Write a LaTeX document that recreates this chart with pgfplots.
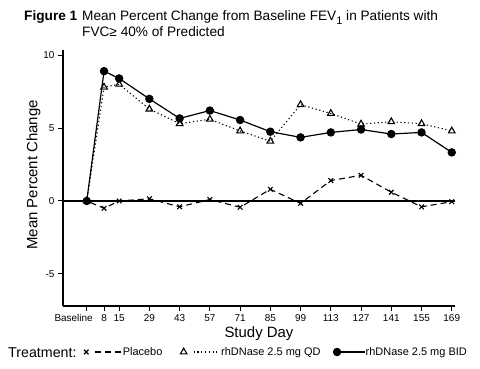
\documentclass[border=0pt]{standalone}
\usepackage{pgfplots}
\pgfplotsset{compat=1.18}
\usepackage{fontspec}
\setmainfont{Liberation Sans}
\pgfplotsset{
  legA/.style={legend image code/.code={\draw[##1,mark=none] (5bp,0bp) -- (35bp,0bp); \path (36bp,0bp); \draw[##1] plot coordinates {(0bp,0bp)};}},
  legB/.style={legend image code/.code={\draw[##1,mark=none] (10bp,0bp) -- (33bp,0bp); \path (37bp,0bp); \draw[##1] plot coordinates {(0bp,0bp)};}},
  legC/.style={legend image code/.code={\draw[##1,mark=none] (0bp,0bp) -- (28bp,0bp); \draw[##1] plot coordinates {(0bp,0bp)};}},
}
\begin{document}
\begin{tikzpicture}
\path (-63bp,-63bp) rectangle (417bp,306bp);
\begin{axis}[
  scale only axis, width=392bp, height=256bp,
  xmin=-11, xmax=170.5, ymin=-7.2, ymax=10.35,
  axis lines=left, axis line style={-, line width=1.6bp},
  tick align=outside, major tick length=5bp, tick style={black, line width=1bp},
  xtick={0,8,15,29,43,57,71,85,99,113,127,141,155,169},
  xticklabels={\hspace*{12bp}\makebox[0pt][r]{Baseline},8,15,29,43,57,71,85,99,113,127,141,155,169},
  ytick={-5,0,5,10}, yticklabels={-5,0,5,10},
  xticklabel style={font=\fontsize{10}{11}\selectfont},
  yticklabel style={font=\fontsize{10}{11}\selectfont},
  xlabel={Study Day}, xlabel style={font=\fontsize{15}{16}\selectfont, inner sep=1bp},
  ylabel={Mean Percent Change}, ylabel style={font=\fontsize{15}{16}\selectfont,
     at={(axis description cs:-0.075,0.512)}, anchor=center},
  clip=false,
  legend columns=3,
  legend style={draw=none, fill=none, at={(20.7bp,-46bp)}, anchor=west, inner sep=0pt,
    font=\fontsize{11}{12}\selectfont, nodes={inner xsep=0pt},
    /tikz/column 2/.style={column sep=18bp},
    /tikz/column 4/.style={column sep=13bp}},
]
\addplot[black, line width=1.3bp, forget plot] coordinates {(-11,0) (170.5,0)};
\addplot[black, line width=1.1bp, dash pattern=on 6bp off 4bp, dash phase=-4bp, mark=x, mark size=3.3bp, mark options={solid, line width=1.1bp}, legA] coordinates {
(0,0) (8,-0.5) (15,0.0) (29,0.15) (43,-0.4) (57,0.1) (71,-0.43) (85,0.8) (99,-0.16) (113,1.4) (127,1.76) (141,0.6) (155,-0.4) (169,-0.05)};
\addlegendentry{Placebo}
\addplot[black, line width=1.1bp, dash pattern=on 1.2bp off 2.6bp, mark=triangle, mark size=3.8bp, mark options={solid, line width=1.1bp, fill=white}, legB] coordinates {
(0,0) (8,7.8) (15,8.0) (29,6.3) (43,5.3) (57,5.6) (71,4.8) (85,4.1) (99,6.6) (113,6.0) (127,5.27) (141,5.43) (155,5.3) (169,4.8)};
\addlegendentry{rhDNase 2.5 mg QD}
\addplot[black, line width=1.2bp, mark=*, mark size=3.6bp, mark options={solid, fill=black}, legC] coordinates {
(0,0) (8,8.9) (15,8.4) (29,7.0) (43,5.66) (57,6.2) (71,5.55) (85,4.75) (99,4.36) (113,4.7) (127,4.9) (141,4.59) (155,4.7) (169,3.33)};
\addlegendentry{rhDNase 2.5 mg BID}
\end{axis}
\node[anchor=base west, inner sep=0, font=\fontsize{14.3}{15}\selectfont] at (-55bp,-51bp) {Treatment:};
\node[anchor=base west, inner sep=0, font=\fontsize{13.7}{15}\selectfont\bfseries] at (-39bp,285bp) {Figure 1};
\node[anchor=base west, inner sep=0, font=\fontsize{13.7}{15}\selectfont] at (19bp,285bp) {Mean Percent Change from Baseline FEV\raisebox{-3.5bp}{\fontsize{11}{11}\selectfont 1} in Patients with};
\node[anchor=base west, inner sep=0, font=\fontsize{13.7}{15}\selectfont] at (19bp,269bp) {FVC≥ 40\% of Predicted};
\end{tikzpicture}
\end{document}
